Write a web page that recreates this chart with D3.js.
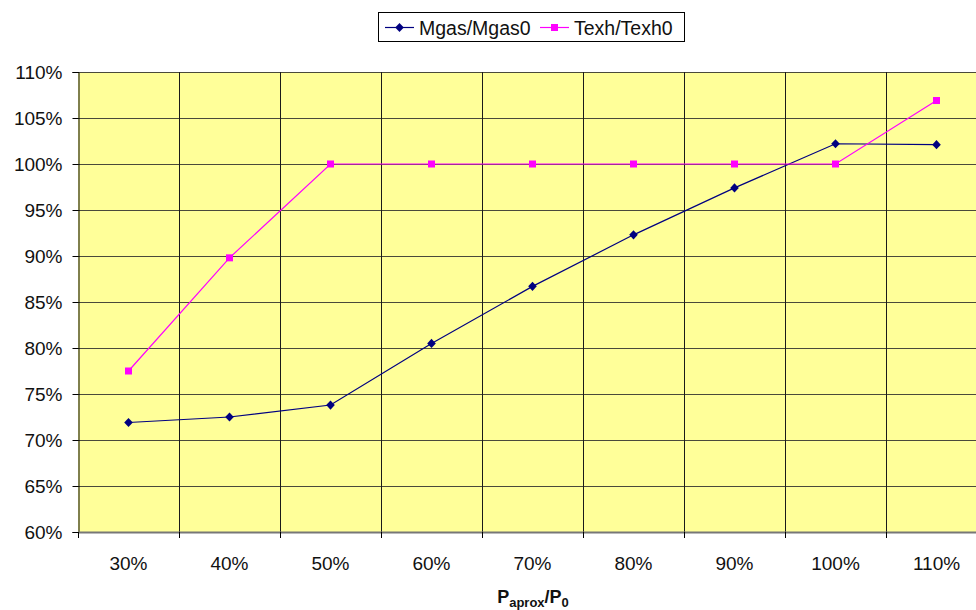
<!DOCTYPE html>
<html>
<head>
<meta charset="utf-8">
<script src="https://cdn.jsdelivr.net/npm/d3@7"></script>
<style>
  html, body { margin: 0; padding: 0; background: #ffffff; }
  svg { display: block; font-family: Arial, "Liberation Sans", sans-serif; }
</style>
</head>
<body>
<svg id="chart" width="976" height="610"></svg>
<script>
// Load fraction categories (x axis)
const categories = ["30%", "40%", "50%", "60%", "70%", "80%", "90%", "100%", "110%"];
// Ratios in percent
const mgasValues = [71.9, 72.5, 73.8, 80.5, 86.7, 92.3, 97.4, 102.2, 102.1];
const texhValues = [77.5, 89.8, 100, 100, 100, 100, 100, 100, 106.9];
const yTicks = [60, 65, 70, 75, 80, 85, 90, 95, 100, 105, 110];
const seriesNames = ["Mgas/Mgas0", "Texh/Texh0"];

const svg = d3.select("#chart");
const plot = { left: 78, top: 72, width: 909, height: 460 };

const x = d3.scaleBand().domain(categories).range([plot.left, plot.left + plot.width]);
const y = d3.scaleLinear().domain([60, 110]).range([plot.top + plot.height, plot.top]);

// Plot background
svg.append("rect")
  .attr("x", plot.left).attr("y", plot.top)
  .attr("width", plot.width).attr("height", plot.height)
  .attr("fill", "#ffff99");

// Horizontal gridlines
svg.append("g").selectAll("line").data(yTicks.slice(1)).join("line")
  .attr("x1", plot.left).attr("x2", plot.left + plot.width)
  .attr("y1", d => Math.round(y(d)) + 0.5).attr("y2", d => Math.round(y(d)) + 0.5)
  .attr("stroke", "#4a4a3a").attr("stroke-width", 1);

// Vertical gridlines at category boundaries
const bounds = categories.map(c => x(c)).slice(1);
svg.append("g").selectAll("line").data(bounds).join("line")
  .attr("x1", d => Math.round(d) + 0.5).attr("x2", d => Math.round(d) + 0.5)
  .attr("y1", plot.top).attr("y2", plot.top + plot.height)
  .attr("stroke", "#1a1a1a").attr("stroke-width", 1);

// Y axis
const yAxis = svg.append("g")
  .attr("transform", `translate(${plot.left + 0.5},0)`)
  .call(d3.axisLeft(y).tickValues(yTicks).tickFormat(d => d + "%").tickSize(6).tickPadding(10));
yAxis.select(".domain").attr("stroke", "#000").attr("stroke-width", 1);
yAxis.selectAll(".tick line").attr("stroke", "#000");
yAxis.selectAll(".tick text").attr("font-size", 19).attr("fill", "#111")
  .attr("font-family", "Arial, 'Liberation Sans', sans-serif");

// X axis with ticks on category boundaries
const xAxis = svg.append("g")
  .attr("transform", `translate(0,${plot.top + plot.height})`);
xAxis.append("line")
  .attr("x1", plot.left).attr("x2", plot.left + plot.width)
  .attr("y1", 0.5).attr("y2", 0.5)
  .attr("stroke", "#777").attr("stroke-width", 2);
xAxis.selectAll("line.tk").data([plot.left].concat(bounds)).join("line")
  .attr("class", "tk")
  .attr("x1", d => Math.round(d) + 0.5).attr("x2", d => Math.round(d) + 0.5)
  .attr("y1", 0).attr("y2", 6)
  .attr("stroke", "#000");
xAxis.selectAll("text").data(categories).join("text")
  .attr("x", d => x(d) + x.bandwidth() / 2)
  .attr("y", 38)
  .attr("text-anchor", "middle")
  .attr("font-size", 19).attr("fill", "#111")
  .text(d => d);

// Axis title with subscripts
const title = svg.append("text")
  .attr("x", 533).attr("y", 603)
  .attr("text-anchor", "middle")
  .attr("font-size", 18).attr("font-weight", "bold").attr("fill", "#111");
title.append("tspan").text("P");
title.append("tspan").attr("font-size", 13).attr("dy", 4).text("aprox");
title.append("tspan").attr("dy", -4).text("/P");
title.append("tspan").attr("font-size", 13).attr("dy", 4).text("0");

const cx = (d, i) => x(categories[i]) + x.bandwidth() / 2;

// Series lines
const line = d3.line().x((d, i) => cx(d, i)).y(d => y(d));
svg.append("path").datum(mgasValues).attr("d", line)
  .attr("fill", "none").attr("stroke", "#000080").attr("stroke-width", 1.2);
svg.append("path").datum(texhValues).attr("d", line)
  .attr("fill", "none").attr("stroke", "#ff00ff").attr("stroke-width", 1.2);

// Markers
const diamond = "M0,-4.6L4.3,0L0,4.6L-4.3,0Z";
svg.append("g").selectAll("path").data(mgasValues).join("path")
  .attr("transform", (d, i) => `translate(${cx(d, i)},${y(d)})`)
  .attr("d", diamond).attr("fill", "#000080");
svg.append("g").selectAll("rect").data(texhValues).join("rect")
  .attr("x", (d, i) => cx(d, i) - 3.5).attr("y", d => y(d) - 3.5)
  .attr("width", 7).attr("height", 7).attr("fill", "#ff00ff");

// Legend
const legend = svg.append("g");
legend.append("rect").attr("x", 378.5).attr("y", 12.5).attr("width", 306).attr("height", 29)
  .attr("fill", "#fff").attr("stroke", "#000").attr("stroke-width", 1);
const legendItems = [
  { name: seriesNames[0], color: "#000080", x: 385, marker: "diamond" },
  { name: seriesNames[1], color: "#ff00ff", x: 540, marker: "square" }
];
legendItems.forEach(it => {
  legend.append("line").attr("x1", it.x).attr("x2", it.x + 29).attr("y1", 27.5).attr("y2", 27.5)
    .attr("stroke", it.color).attr("stroke-width", 1.2);
  if (it.marker === "diamond") {
    legend.append("path").attr("transform", `translate(${it.x + 14.5},27.5)`)
      .attr("d", diamond).attr("fill", it.color);
  } else {
    legend.append("rect").attr("x", it.x + 11).attr("y", 24).attr("width", 7).attr("height", 7)
      .attr("fill", it.color);
  }
  legend.append("text").attr("x", it.x + 34).attr("y", 34.5)
    .attr("font-size", 19.5).attr("fill", "#111").text(it.name);
});
</script>
</body>
</html>
